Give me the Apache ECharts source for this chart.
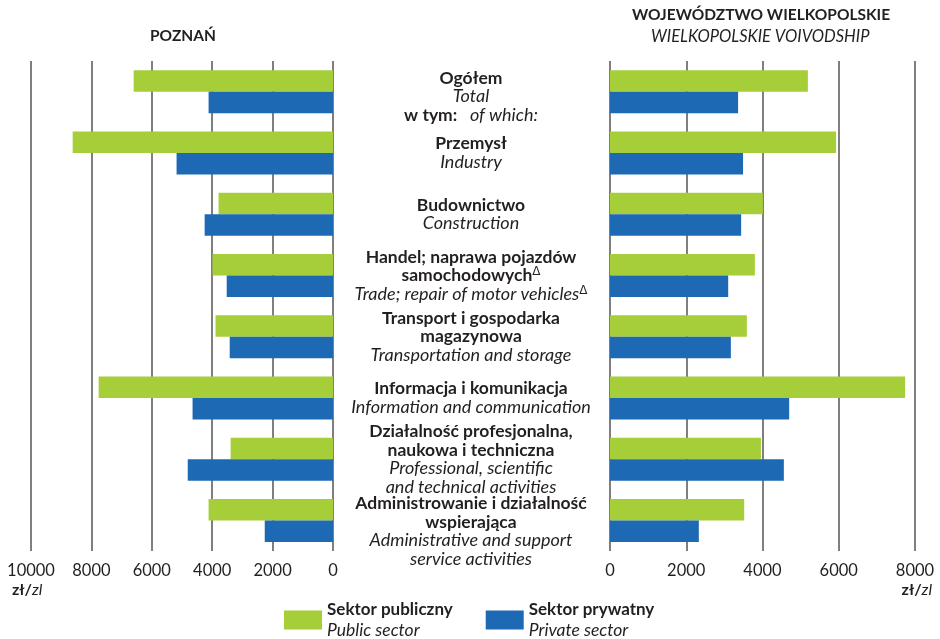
<!DOCTYPE html>
<html>
<head>
<meta charset="utf-8">
<script src="https://cdn.jsdelivr.net/npm/echarts@6/dist/echarts.min.js"></script>
<style>
  html, body { margin: 0; padding: 0; background: #fff; }
  #chart { width: 940px; height: 639px; }
</style>
</head>
<body>
<div id="chart"></div>
<script>
// categories (PL bold / EN italic), top to bottom
const categories = ['Ogółem', 'Przemysł', 'Budownictwo', 'Handel', 'Transport', 'Informacja', 'Działalność profesjonalna', 'Administrowanie']
const categoryLabels = [
  '{gap| }\n{b|Ogółem}\n{i|Total}\n{b|w tym:}{i|   of which:}',
  '{b|Przemysł}\n{i|Industry}',
  '{b|Budownictwo}\n{i|Construction}',
  '{b|Handel; naprawa pojazdów}\n{b|samochodowych}{sup|Δ}\n{i|Trade; repair of motor vehicles}{sup|Δ}',
  '{b|Transport i gospodarka}\n{b|magazynowa}\n{i|Transportation and storage}',
  '{b|Informacja i komunikacja}\n{i|Information and communication}',
  '{b|Działalność profesjonalna,}\n{b|naukowa i techniczna}\n{i|Professional, scientific}\n{i|and technical activities}',
  '{gap2| }\n{b|Administrowanie i działalność}\n{b|wspierająca}\n{i|Administrative and support}\n{i|service activities}'
]

// zł, Poznań
const poznanPublic = [6600, 8620, 3790, 3990, 3890, 7760, 3390, 4120]
const poznanPrivate = [4120, 5180, 4250, 3520, 3420, 4650, 4810, 2260]
// zł, województwo wielkopolskie
const wlkpPublic = [5190, 5930, 4010, 3800, 3590, 7740, 3960, 3520]
const wlkpPrivate = [3360, 3490, 3440, 3100, 3170, 4700, 4560, 2330]

const publicName = 'Sektor publiczny'
const privateName = 'Sektor prywatny'
const legendEn = { 'Sektor publiczny': 'Public sector', 'Sektor prywatny': 'Private sector' }

const green = '#a6ce39'
const blue = '#1e69b4'
const textColor = '#231f20'
const font = 'Lato'

const chart = echarts.init(document.getElementById('chart'))

const gridLine = { show: true, lineStyle: { color: '#555', width: 1.5 } }
const tickLabel = { fontSize: 16.5, color: textColor, fontFamily: font, margin: 11, formatter: v => String(v) }
const unitText = {
  text: '{b|zł/}{i|zl}',
  rich: {
    b: { fontFamily: font, fontSize: 16, fontWeight: 'bold', fill: textColor },
    i: { fontFamily: font, fontSize: 16, fontStyle: 'italic', fill: textColor }
  }
}

const option = {
  animation: false,
  textStyle: { fontFamily: font },
  grid: [
    { left: 31, top: 61, width: 302, height: 490 },
    { left: 610, top: 61, width: 305, height: 490 }
  ],
  xAxis: [
    {
      gridIndex: 0, type: 'value', inverse: true, min: 0, max: 10000, interval: 2000,
      axisLine: { show: false }, axisTick: { show: false },
      splitLine: gridLine, axisLabel: tickLabel
    },
    {
      gridIndex: 1, type: 'value', min: 0, max: 8000, interval: 2000,
      axisLine: { show: false }, axisTick: { show: false },
      splitLine: gridLine, axisLabel: tickLabel
    }
  ],
  yAxis: [
    {
      gridIndex: 0, type: 'category', inverse: true, data: categories, position: 'right',
      axisLine: { show: false }, axisTick: { show: false },
      axisLabel: {
        interval: 0,
        hideOverlap: false,
        margin: 138,
        align: 'center',
        formatter: (v, i) => categoryLabels[i],
        rich: {
          b: { fontFamily: font, fontSize: 17.5, fontWeight: 'bold', color: textColor, lineHeight: 18.5 },
          i: { fontFamily: font, fontSize: 18, fontStyle: 'italic', color: textColor, lineHeight: 18.5 },
          sup: { fontFamily: 'DejaVu Sans', fontSize: 12, color: textColor, lineHeight: 12, padding: [0, 0, 7, 0] },
          gap: { fontSize: 1, lineHeight: 10 },
          gap2: { fontSize: 1, lineHeight: 22 }
        }
      }
    },
    {
      gridIndex: 1, type: 'category', inverse: true, data: categories,
      axisLine: { show: false }, axisTick: { show: false }, axisLabel: { show: false }
    }
  ],
  legend: {
    left: 279, top: 596,
    itemWidth: 38, itemHeight: 19, itemGap: 33,
    icon: 'rect',
    data: [publicName, privateName],
    formatter: name => '{b|' + name + '}\n{i|' + legendEn[name] + '}',
    textStyle: {
      rich: {
        b: { fontFamily: font, fontSize: 17, fontWeight: 'bold', color: textColor, lineHeight: 21 },
        i: { fontFamily: font, fontSize: 17.5, fontStyle: 'italic', color: textColor, lineHeight: 21 }
      }
    }
  },
  graphic: [
    { type: 'text', left: 150, top: 28, style: { text: 'POZNAŃ', fontFamily: font, fontSize: 15.5, fontWeight: 'bold', fill: textColor } },
    { type: 'text', left: 632, top: 7, style: { text: 'WOJEWÓDZTWO WIELKOPOLSKIE', fontFamily: font, fontSize: 15.5, fontWeight: 'bold', fill: textColor } },
    { type: 'text', left: 651, top: 28, style: { text: 'WIELKOPOLSKIE VOIVODSHIP', fontFamily: font, fontSize: 16.5, fontStyle: 'italic', fill: textColor } },
    { type: 'text', left: 12, top: 582, style: unitText },
    { type: 'text', right: 8, top: 582, style: unitText }
  ],
  series: [
    { name: publicName, type: 'bar', xAxisIndex: 0, yAxisIndex: 0, data: poznanPublic, itemStyle: { color: green }, barWidth: 21.5, barGap: '0%' },
    { name: privateName, type: 'bar', xAxisIndex: 0, yAxisIndex: 0, data: poznanPrivate, itemStyle: { color: blue }, barWidth: 21.5, barGap: '0%' },
    { name: publicName, type: 'bar', xAxisIndex: 1, yAxisIndex: 1, data: wlkpPublic, itemStyle: { color: green }, barWidth: 21.5, barGap: '0%' },
    { name: privateName, type: 'bar', xAxisIndex: 1, yAxisIndex: 1, data: wlkpPrivate, itemStyle: { color: blue }, barWidth: 21.5, barGap: '0%' }
  ]
}

chart.setOption(option)
</script>
</body>
</html>
